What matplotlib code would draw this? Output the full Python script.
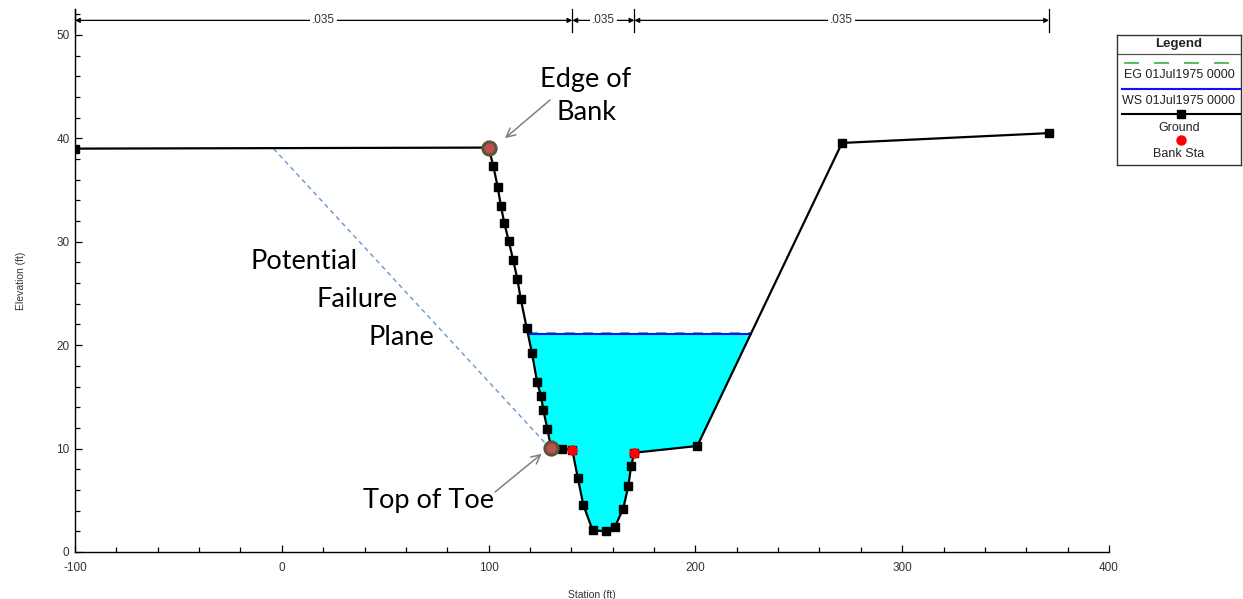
import numpy as np
import matplotlib
matplotlib.use("Agg")
import matplotlib.pyplot as plt
from matplotlib.lines import Line2D

plt.rcParams["axes.unicode_minus"] = False

# ---------------- data ----------------
ground_sta = [-100, 100, 102.3, 104.4, 105.9, 107.6, 109.7, 111.9, 113.9, 115.5,
              118.4, 121.0, 123.5, 125.3, 126.5, 128.4, 130.2, 135.6, 140.5,
              143.1, 145.8, 150.3, 156.8, 161.1, 165.1, 167.6, 168.9, 170.5,
              200.9, 270.9, 371.0]
ground_elev = [39.0, 39.1, 37.3, 35.3, 33.5, 31.8, 30.1, 28.2, 26.4, 24.5,
               21.7, 19.2, 16.4, 15.1, 13.7, 11.9, 10.1, 10.0, 9.85,
               7.2, 4.55, 2.1, 2.0, 2.45, 4.2, 6.4, 8.3, 9.6,
               10.25, 39.55, 40.5]
ws_elev = 21.1
eg_elev = 21.2
bank_sta = [140.5, 170.5]
bank_elev = [9.85, 9.6]
n_bounds = [-100, 140.5, 170.5, 371.0]
n_values = [".035", ".035", ".035"]
edge_of_bank = (100, 39.1)
top_of_toe = (130.2, 10.1)
failure_plane_sta = [-4, 128]
failure_plane_elev = [39.0, 10.4]
xticks = [-100, 0, 100, 200, 300, 400]
yticks = [0, 10, 20, 30, 40, 50]

# ---------------- figure ----------------
W, H = 1243, 599
fig = plt.figure(figsize=(W / 100, H / 100), dpi=100)
ax = fig.add_axes([75 / W, 1 - 552 / H, (1109 - 75) / W, (552 - 9) / H])
ax.set_xlim(-100, 400)
ax.set_ylim(0, 52.5)

sta = np.array(ground_sta)
elev = np.array(ground_elev)

# water fill
ax.fill_between(sta, elev, ws_elev, where=elev <= ws_elev, interpolate=True,
                color="#00ffff", linewidth=0, zorder=1)

# crossings of ground with water surface
cross = []
for i in range(len(sta) - 1):
    a, b = elev[i] - ws_elev, elev[i + 1] - ws_elev
    if a * b < 0:
        cross.append(sta[i] + (sta[i + 1] - sta[i]) * a / (a - b))
xl, xr = cross[0], cross[-1]
ax.plot([xl, xr], [eg_elev, eg_elev], color="#3cb043", lw=1.2,
        dashes=(6, 5), zorder=2)
ax.plot([xl, xr], [ws_elev, ws_elev], color="#1010ff", lw=1.5, zorder=3)

# failure plane
ax.plot(failure_plane_sta, failure_plane_elev, color="#6f9fd8", lw=1.1,
        dashes=(3, 2.5), zorder=2)

# ground
ax.plot(sta, elev, color="black", lw=1.6, marker="s", ms=5.2,
        markerfacecolor="black", markeredgecolor="black", zorder=4)
ax.plot(bank_sta, bank_elev, linestyle="none", marker="o", ms=6.5,
        color="red", markeredgecolor="red", zorder=5)

# highlight circles
for p in (edge_of_bank, top_of_toe):
    ax.plot([p[0]], [p[1]], marker="o", ms=9.5, markerfacecolor="#c0504d",
            markeredgecolor="#5b5436", markeredgewidth=2.2, zorder=6)

# n-value brackets
y_n = 51.4
for i in range(len(n_values)):
    x0, x1 = n_bounds[i], n_bounds[i + 1]
    ax.annotate("", xy=(x0, y_n), xytext=(x1, y_n),
                arrowprops=dict(arrowstyle="<|-|>", color="black", lw=0.9,
                                mutation_scale=7, shrinkA=0, shrinkB=0),
                zorder=5, annotation_clip=False)
    ax.text((x0 + x1) / 2, y_n, n_values[i], ha="center", va="center",
            fontsize=8.5, family="Liberation Sans", color="#333333",
            bbox=dict(facecolor="white", edgecolor="none", pad=1.5), zorder=6)
for xb in n_bounds:
    ax.plot([xb, xb], [50.3, 52.5], color="black", lw=0.9, zorder=5,
            clip_on=False)

# annotations
tfont = dict(family=["Lato", "DejaVu Sans"], fontsize=19.5, color="black")
arrow = dict(arrowstyle="->", color="#808080", lw=1.1, mutation_scale=16,
             shrinkA=0, shrinkB=0)
ax.text(147.1, 44.1, "Edge of\nBank", ha="center", va="center",
        linespacing=1.42, **tfont)
ax.annotate("", xy=(107.9, 40.0), xytext=(129.7, 43.7), arrowprops=arrow)
ax.text(-15.2, 28.1, "Potential", ha="left", va="center", **tfont)
ax.text(16.7, 24.4, "Failure", ha="left", va="center", **tfont)
ax.text(42.0, 20.7, "Plane", ha="left", va="center", **tfont)
ax.text(70.7, 5.0, "Top of Toe", ha="center", va="center", **tfont)
ax.annotate("", xy=(125.7, 9.5), xytext=(103.1, 5.8), arrowprops=arrow)

# axes styling
for s in ("top", "right"):
    ax.spines[s].set_visible(False)
for s in ("left", "bottom"):
    ax.spines[s].set_linewidth(1.0)
ax.set_xticks(xticks)
ax.set_yticks(yticks)
ax.set_xticks(np.arange(-100, 401, 20), minor=True)
ax.set_yticks(np.arange(0, 52.5, 2), minor=True)
ax.tick_params(which="both", direction="in", colors="black", width=0.9,
               labelsize=8.5, labelcolor="#333333")
ax.tick_params(which="major", length=5)
ax.tick_params(which="minor", length=3.5)
ax.tick_params(axis="x", pad=7)
ax.tick_params(axis="y", pad=4)
for lab in ax.get_xticklabels() + ax.get_yticklabels():
    lab.set_family("Liberation Sans")
ax.set_xlabel("Station (ft)", fontsize=7.5, family="Liberation Sans",
              color="#333333", labelpad=12)
ax.set_ylabel("Elevation (ft)", fontsize=7.5, family="Liberation Sans",
              color="#333333", labelpad=22)

# legend box (drawn in pixel units)
lx0, lx1, ly0, ly1 = 1117, 1241, 35, 165
lax = fig.add_axes([lx0 / W, 1 - ly1 / H, (lx1 - lx0) / W, (ly1 - ly0) / H])
lax.set_xlim(0, lx1 - lx0)
lax.set_ylim(ly1 - ly0, 0)
lax.set_xticks([])
lax.set_yticks([])
for s in lax.spines.values():
    s.set_linewidth(1.0)
    s.set_color("#333333")
lfont = dict(family="Liberation Sans", fontsize=9, color="#222222",
             ha="center", va="center")
lw_ = lx1 - lx0
lax.text(lw_ / 2, 9, "Legend", fontweight="bold", **{**lfont, "fontsize": 9.5})
lax.add_line(Line2D([0, lw_], [19, 19], color="#555555", lw=0.9))
lax.add_line(Line2D([7, lw_], [27.7, 27.7], color="#3cb043", lw=1.2,
                    dashes=(9, 9)))
lax.text(lw_ / 2, 40.3, "EG 01Jul1975 0000", **lfont)
lax.add_line(Line2D([5, lw_], [53.7, 53.7], color="#1010ff", lw=1.5))
lax.text(lw_ / 2, 66.3, "WS 01Jul1975 0000", **lfont)
lax.add_line(Line2D([5, lw_], [78.7, 78.7], color="black", lw=1.5))
lax.plot([64], [78.7], marker="s", ms=6, color="black")
lax.text(lw_ / 2, 92.7, "Ground", **lfont)
lax.plot([64], [105.3], marker="o", ms=6.5, color="red")
lax.text(lw_ / 2, 118.7, "Bank Sta", **lfont)

fig.savefig("out.png", dpi=100)
